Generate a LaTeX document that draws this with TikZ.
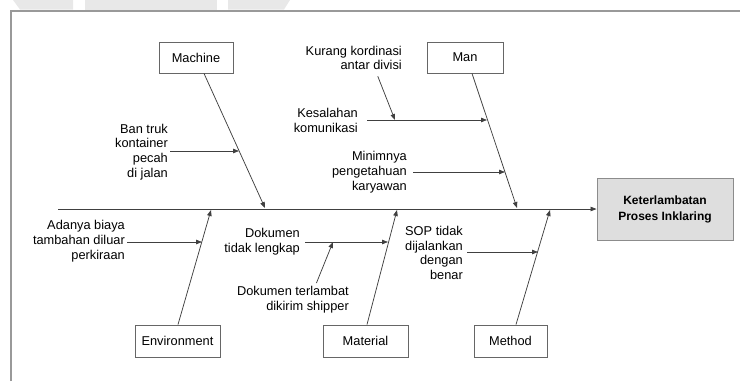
\documentclass[tikz,border=0pt]{standalone}
\usepackage{fontspec}
\setmainfont{Liberation Sans}
\usetikzlibrary{arrows.meta}

\tikzset{
    catbox/.style={draw=black!60, line width=0.9pt, minimum height=31pt, inner sep=2pt},
    causetext/.style={align=right, inner sep=0pt, anchor=east},
    bone/.style={draw=black!75, line width=0.75pt, -{Triangle[length=6pt,width=4.5pt]}},
}

\begin{document}
\begin{tikzpicture}[x=1pt, y=-1pt, font=\fontsize{12.8}{14.7}\selectfont]
    \useasboundingbox (0,0) rectangle (740,381);

    % remains of the page above
    \fill[black!9] (13,0) -- (73,0) -- (73,9.5) -- (20,9.5) -- cycle;
    \fill[black!9] (85,0) -- (217,0) -- (217,9.5) -- (85,9.5) -- cycle;
    \fill[black!9] (228,0) -- (290,0) -- (284,9.5) -- (228,9.5) -- cycle;
    \draw[black!40, line width=2.5pt] (11,381) -- (11,11) -- (740,11);

    % head and spine
    \node[draw=black!45, fill=black!13, line width=0.9pt, minimum width=136pt, minimum height=62pt,
          align=center, font=\bfseries\fontsize{12}{16}\selectfont] (effect) at (665,209)
          {Keterlambatan\\Proses Inklaring};
    \coordinate (tail) at (58,209);
    \draw[bone] (tail) -- (effect.west);

    % categories
    \node[catbox, minimum width=74pt] (machine) at (196,57.5) {Machine};
    \node[catbox, minimum width=76pt] (man) at (465,57.5) {Man};
    \node[catbox, minimum width=85pt, minimum height=32pt] (environment) at (177.5,341) {Environment};
    \node[catbox, minimum width=85pt, minimum height=32pt] (material) at (365.5,341) {Material};
    \node[catbox, minimum width=73pt, minimum height=32pt] (method) at (510.5,341) {Method};

    \coordinate (machineHead) at (265,208);
    \coordinate (manHead) at (517,208);
    \coordinate (envHead) at (211,210);
    \coordinate (matHead) at (397,210);
    \coordinate (methodHead) at (550,210);

    \draw[bone] ([xshift=8pt]machine.south) -- (machineHead);
    \draw[bone] ([xshift=7pt]man.south) -- (manHead);
    \draw[bone] ([xshift=0.5pt]environment.north) -- (envHead);
    \draw[bone] ([xshift=1.5pt]material.north) -- (matHead);
    \draw[bone] ([xshift=5.5pt]method.north) -- (methodHead);

    % machine
    \node[causetext] (ban) at (168,152) {Ban truk\\kontainer\\pecah\\di jalan};
    \coordinate (banEnd) at (239,151);
    \draw[bone] ([xshift=2pt,yshift=1pt]ban.east) -- (banEnd);

    % man
    \node[causetext] (kesalahan) at (358,120.5) {Kesalahan\\komunikasi};
    \coordinate (kesEnd) at (487,120);
    \coordinate (kesMid) at (395,120);
    \draw[bone] ([xshift=9pt,yshift=0.5pt]kesalahan.east) -- (kesEnd);
    \node[causetext] (kurang) at (402,58) {Kurang kordinasi\\antar divisi};
    \draw[bone] ([xshift=24pt,yshift=-6pt]kurang.south) -- (kesMid);
    \node[causetext] (minim) at (407,172) {Minimnya\\pengetahuan\\karyawan};
    \coordinate (minEnd) at (505,172);
    \draw[bone] ([xshift=6pt]minim.east) -- (minEnd);

    % environment
    \node[causetext] (biaya) at (125,241) {Adanya biaya\\tambahan diluar\\perkiraan};
    \coordinate (biayaEnd) at (202,242);
    \draw[bone] ([xshift=2pt,yshift=-1pt]biaya.east) -- (biayaEnd);

    % material
    \node[causetext] (dokumen) at (300,241.5) {Dokumen\\tidak lengkap};
    \coordinate (dokEnd) at (388,242);
    \coordinate (dokMid) at (333,242);
    \draw[bone] ([xshift=5pt,yshift=-0.5pt]dokumen.east) -- (dokEnd);
    \node[causetext] (terlambat) at (349,299.5) {Dokumen terlambat\\dikirim shipper};
    \draw[bone] ([xshift=23.5pt,yshift=3pt]terlambat.north) -- (dokMid);

    % method
    \node[causetext] (sop) at (463,253) {SOP tidak\\dijalankan\\dengan\\benar};
    \coordinate (sopEnd) at (538,252);
    \draw[bone] ([xshift=4pt,yshift=1pt]sop.east) -- (sopEnd);
\end{tikzpicture}
\end{document}
